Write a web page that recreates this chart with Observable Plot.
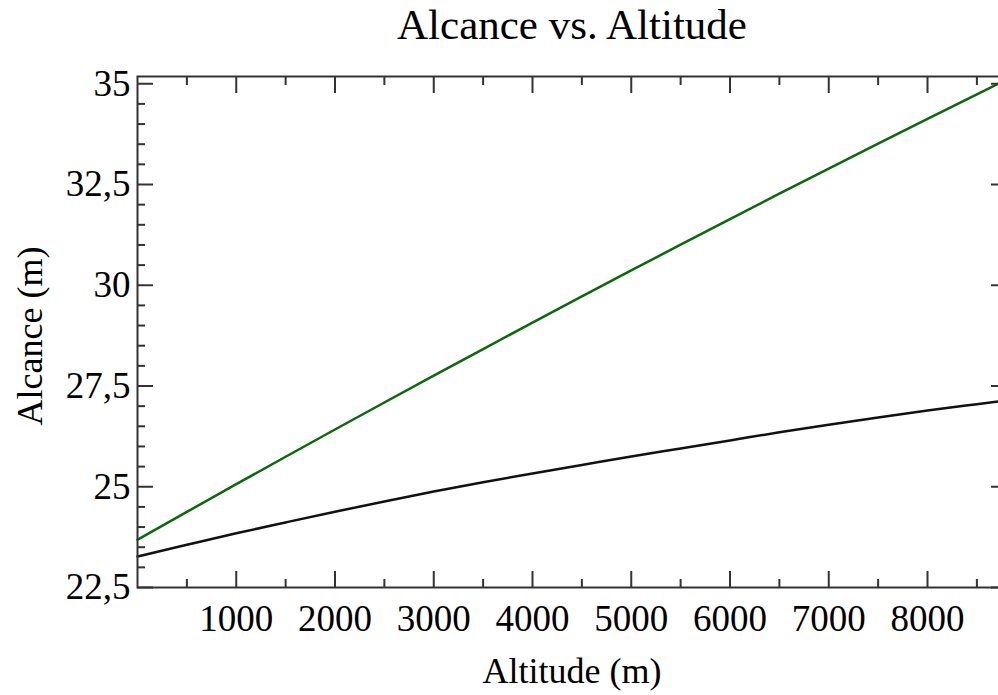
<!DOCTYPE html>
<html>
<head>
<meta charset="utf-8">
<script src="https://cdn.jsdelivr.net/npm/d3@7"></script>
<script src="https://cdn.jsdelivr.net/npm/@observablehq/plot@0.6"></script>
<style>
  html, body { margin: 0; padding: 0; background: #fff; overflow: hidden; }
</style>
</head>
<body>
<div id="chart"></div>
<script>
// ---- data ----
const altitude = [0, 500, 1000, 1500, 2000, 2500, 3000, 3500, 4000, 4500, 5000, 5500, 6000, 6500, 7000, 7500, 8000, 8500, 8800];
const alcanceGreen = [23.685, 24.376, 25.063, 25.744, 26.420, 27.091, 27.756, 28.417, 29.072, 29.722, 30.367, 31.007, 31.641, 32.271, 32.895, 33.515, 34.129, 34.737, 35.100];
const alcanceBlack = [23.27, 23.56, 23.845, 24.115, 24.38, 24.635, 24.88, 25.11, 25.33, 25.54, 25.75, 25.95, 26.15, 26.35, 26.54, 26.72, 26.89, 27.05, 27.145];

const xMajorTicks = [1000, 2000, 3000, 4000, 5000, 6000, 7000, 8000];
const xMinorTicks = [500, 1500, 2500, 3500, 4500, 5500, 6500, 7500, 8500];
const yMajorTicks = [22.5, 25, 27.5, 30, 32.5, 35];
const yMinorTicks = [23, 23.5, 24, 24.5, 25.5, 26, 26.5, 27, 28, 28.5, 29, 29.5, 30.5, 31, 31.5, 32, 33, 33.5, 34, 34.5];

const titleText = ["Alcance vs. Altitude"];
const xLabelText = ["Altitude (m)"];
const yLabelText = ["Alcance (m)"];

// ---- tables built from the arrays ----
const greenRows = altitude.map((a, i) => ({altitude: a, alcance: alcanceGreen[i]}));
const blackRows = altitude.map((a, i) => ({altitude: a, alcance: alcanceBlack[i]}));

const ink = "#333";
const fmtY = d => String(d).replace(".", ",");
const fmtX = d => String(d);
const serif = "'Liberation Serif', 'Times New Roman', serif";

const chart = Plot.plot({
  width: 998,
  height: 695,
  marginLeft: 137,
  marginRight: -8,
  marginTop: 76,
  marginBottom: 108,
  style: {fontFamily: serif, fontSize: "36px", color: "#000", background: "#fff"},
  x: {domain: [0, 8800]},
  y: {domain: [22.5, 35.18]},
  marks: [
    Plot.line(greenRows, {x: "altitude", y: "alcance", stroke: "#0a6a0a", strokeWidth: 2.5, curve: "monotone-x"}),
    Plot.line(blackRows, {x: "altitude", y: "alcance", stroke: "#111", strokeWidth: 2.5, curve: "monotone-x"}),
    // inward ticks on all sides
    Plot.axisX(xMajorTicks, {anchor: "bottom", tickSize: -16, fill: "none", stroke: ink, strokeWidth: 2, label: null}),
    Plot.axisX(xMinorTicks, {anchor: "bottom", tickSize: -8, fill: "none", stroke: ink, strokeWidth: 2, label: null}),
    Plot.axisX(xMajorTicks, {anchor: "top", tickSize: -16, fill: "none", stroke: ink, strokeWidth: 2, label: null}),
    Plot.axisX(xMinorTicks, {anchor: "top", tickSize: -8, fill: "none", stroke: ink, strokeWidth: 2, label: null}),
    Plot.axisY(yMajorTicks, {anchor: "left", tickSize: -16, fill: "none", stroke: ink, strokeWidth: 2, label: null}),
    Plot.axisY(yMinorTicks, {anchor: "left", tickSize: -8, fill: "none", stroke: ink, strokeWidth: 2, label: null}),
    Plot.axisY(yMajorTicks, {anchor: "right", tickSize: -16, fill: "none", stroke: ink, strokeWidth: 2, label: null}),
    Plot.axisY(yMinorTicks, {anchor: "right", tickSize: -8, fill: "none", stroke: ink, strokeWidth: 2, label: null}),
    // tick labels
    Plot.axisX(xMajorTicks, {anchor: "bottom", tickSize: 0, tickPadding: 17, fill: "#000", fontSize: 37, tickFormat: fmtX, label: null}),
    Plot.axisY(yMajorTicks, {anchor: "left", tickSize: 0, tickPadding: 7, fill: "#000", fontSize: 37, tickFormat: fmtY, label: null}),
    Plot.frame({stroke: ink, strokeWidth: 2}),
    // title and axis labels
    Plot.text(titleText, {text: d => d, frameAnchor: "top", dy: -51, lineAnchor: "middle", fontSize: 43, fill: "#000"}),
    Plot.text(xLabelText, {text: d => d, frameAnchor: "bottom", dy: 84, lineAnchor: "middle", fontSize: 36, fill: "#000"}),
    Plot.text(yLabelText, {text: d => d, frameAnchor: "left", textAnchor: "middle", dx: -107, dy: 4, rotate: -90, lineAnchor: "middle", fontSize: 36, fill: "#000"})
  ]
});
document.getElementById("chart").appendChild(chart);
</script>
</body>
</html>
